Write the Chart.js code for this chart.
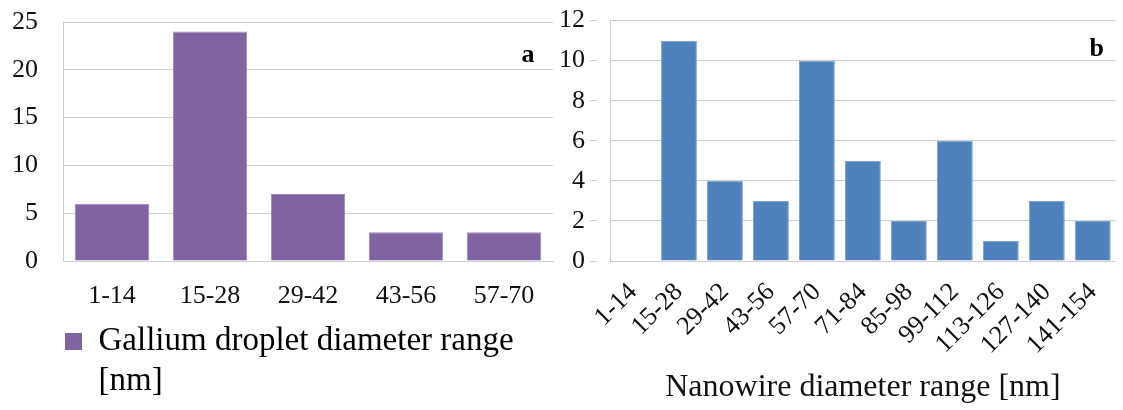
<!DOCTYPE html>
<html>
<head>
<meta charset="utf-8">
<script src="https://cdn.jsdelivr.net/npm/chart.js@4.4.1/dist/chart.umd.min.js"></script>
<style>
  html, body { margin: 0; padding: 0; background: #fff; }
  #wrap { position: relative; width: 1123px; height: 410px; }
  .painel { position: absolute; top: 0; height: 410px; }
  #painel-a { left: 0; width: 560px; }
  #painel-b { left: 560px; width: 563px; }
</style>
</head>
<body>
<div id="wrap">
  <div class="painel" id="painel-a"><canvas id="grafico-a"></canvas></div>
  <div class="painel" id="painel-b"><canvas id="grafico-b"></canvas></div>
</div>
<script>
// (a) gotas de gálio
const faixasGotas = ['1-14', '15-28', '29-42', '43-56', '57-70'];
const contagemGotas = [6, 24, 7, 3, 3];
const ticksGotas = [0, 5, 10, 15, 20, 25];
const legendaGotas = ['Gallium droplet diameter range', '[nm]'];

// (b) nanofios
const faixasFios = ['1-14', '15-28', '29-42', '43-56', '57-70', '71-84', '85-98', '99-112', '113-126', '127-140', '141-154'];
const contagemFios = [0, 11, 4, 3, 10, 5, 2, 6, 1, 3, 2];
const ticksFios = [0, 2, 4, 6, 8, 10, 12];
const tituloFios = 'Nanowire diameter range [nm]';

const fonte = '"Liberation Serif", "Times New Roman", serif';
const corGrade = '#cfcfcf';
const corTexto = '#111';
const roxo = '#8064A2';
const azul = '#4F81BD';

// letra do painel no canto superior direito
const letraPainel = {
    id: 'letraPainel',
    afterDraw(chart, args, opts) {
        const { ctx, chartArea } = chart;
        ctx.save();
        ctx.font = 'bold 26px ' + fonte;
        ctx.fillStyle = '#000';
        ctx.textAlign = 'center';
        ctx.textBaseline = 'alphabetic';
        ctx.fillText(opts.texto, chartArea.right + opts.dx, chartArea.top + opts.dy);
        ctx.restore();
    }
};

// a legenda corta o que passa da sua caixa; abre espaço para a 2a linha
const folgaLegenda = {
    id: 'folgaLegenda',
    afterLayout(chart) {
        if (chart.legend) chart.legend.bottom += 45;
    }
};

//GRÁFICO A
new Chart(document.getElementById('grafico-a'), {
    type: 'bar',
    data: {
        labels: faixasGotas,
        datasets: [{
            label: legendaGotas.join(' '),
            data: contagemGotas,
            backgroundColor: roxo,
            borderColor: '#9d86bb',
            borderWidth: 1,
            barPercentage: 0.76,
            categoryPercentage: 1
        }]
    },
    options: {
        responsive: true,
        maintainAspectRatio: false,
        animation: false,
        layout: { padding: { left: 0, right: 7, top: 22, bottom: 42 } },
        scales: {
            x: {
                grid: { display: false },
                border: { display: true, color: corGrade },
                ticks: { color: corTexto, font: { family: fonte, size: 26 }, padding: 12, maxRotation: 0 },
                afterFit(scale) {
                    scale.height = 62;
                }
            },
            y: {
                min: 0,
                max: 25,
                afterBuildTicks(scale) {
                    scale.ticks = ticksGotas.map(v => ({ value: v }));
                },
                grid: { color: corGrade, drawTicks: true, tickLength: 20, tickColor: 'rgba(0,0,0,0)' },
                border: { display: true, color: corGrade },
                ticks: { color: corTexto, font: { family: fonte, size: 26 }, padding: 5 },
                afterFit(scale) {
                    scale.width = 63;
                }
            }
        },
        plugins: {
            legend: {
                position: 'bottom',
                align: 'start',
                fullSize: false,
                labels: {
                    color: corTexto,
                    font: { family: fonte, size: 33 },
                    boxWidth: 17,
                    boxHeight: 17,
                    padding: 2,
                    generateLabels() {
                        return [{
                            text: legendaGotas,
                            fillStyle: roxo,
                            strokeStyle: roxo,
                            lineWidth: 0,
                            hidden: false,
                            datasetIndex: 0
                        }];
                    }
                }
            },
            tooltip: { enabled: false },
            letraPainel: { texto: 'a', dx: -25, dy: 40 }
        }
    },
    plugins: [letraPainel, folgaLegenda]
});

//GRÁFICO B
new Chart(document.getElementById('grafico-b'), {
    type: 'bar',
    data: {
        labels: faixasFios,
        datasets: [{
            label: tituloFios,
            data: contagemFios,
            backgroundColor: azul,
            borderColor: '#7fa3d1',
            borderWidth: 1,
            barPercentage: 0.78,
            categoryPercentage: 1
        }]
    },
    options: {
        responsive: true,
        maintainAspectRatio: false,
        animation: false,
        layout: { padding: { left: 0, right: 3, top: 20, bottom: 0 } },
        scales: {
            x: {
                grid: { display: false },
                border: { display: true, color: corGrade },
                ticks: {
                    color: corTexto,
                    font: { family: fonte, size: 26 },
                    padding: 8,
                    minRotation: 45,
                    maxRotation: 45,
                    autoSkip: false
                },
                title: {
                    display: true,
                    text: tituloFios,
                    color: corTexto,
                    font: { family: fonte, size: 32 },
                    padding: { top: 0, bottom: 3 }
                },
                afterFit(scale) {
                    scale.height = 149;
                }
            },
            y: {
                min: 0,
                max: 12,
                afterBuildTicks(scale) {
                    scale.ticks = ticksFios.map(v => ({ value: v }));
                },
                // marca de 7px visível; o resto do comprimento só afasta o rótulo
                grid: { color: corGrade, drawTicks: true, tickLength: 20, tickBorderDash: [7, 60] },
                border: { display: true, color: corGrade },
                ticks: { color: corTexto, font: { family: fonte, size: 26 }, padding: 5 },
                afterFit(scale) {
                    scale.width = 50;
                }
            }
        },
        plugins: {
            legend: { display: false },
            tooltip: { enabled: false },
            letraPainel: { texto: 'b', dx: -19, dy: 35 }
        }
    },
    plugins: [letraPainel]
});
</script>
</body>
</html>
